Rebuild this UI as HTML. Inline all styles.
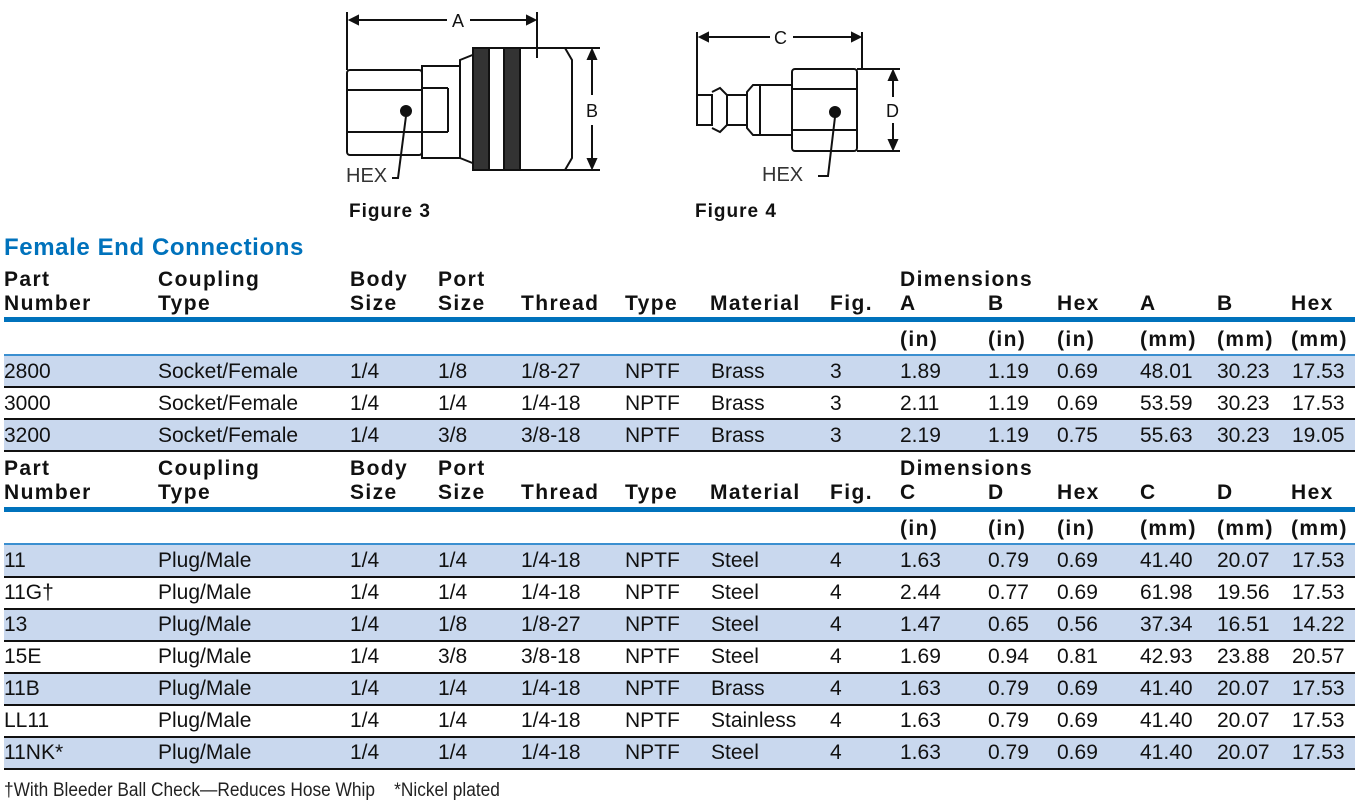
<!DOCTYPE html>
<html><head><meta charset="utf-8"><style>
body{margin:0;width:1359px;height:808px;background:#fff;position:relative;overflow:hidden;font-family:"Liberation Sans",sans-serif;color:#111}
.t{position:absolute;white-space:nowrap}
.h{font-family:"Liberation Sans",sans-serif;font-weight:bold;font-size:21px;line-height:24px;letter-spacing:1.4px}
.d{font-size:21px;line-height:32px}
.row{position:absolute;left:4px;width:1351px;height:32px}
.s{background:#c9d8ee}
.ln{position:absolute;left:4px;width:1351px;height:2px;background:#111}
.bb{position:absolute;left:4px;width:1351px;height:5px;background:#0072bc}
.tb{position:absolute;left:4px;width:1351px;height:2px;background:#3b8fd0}
</style></head><body>
<svg width="1359" height="230" style="position:absolute;left:0;top:0" fill="none" stroke="#111" stroke-width="2">
<line x1="347" y1="12" x2="347" y2="70"/><line x1="537" y1="12" x2="537" y2="58"/>
<line x1="350" y1="20" x2="447" y2="20"/><line x1="470" y1="20" x2="535" y2="20"/>
<path d="M350 20l8-4v8z M535 20l-8-4v8z" fill="#111"/>
<text x="452" y="27" font-family="Liberation Sans" font-size="18" fill="#111" stroke="none">A</text>
<rect x="347" y="70" width="75" height="85" rx="3"/><line x1="347" y1="90" x2="422" y2="90"/><line x1="347" y1="132" x2="422" y2="132"/>
<rect x="422" y="66" width="38" height="92"/><line x1="422" y1="88" x2="448" y2="88"/><line x1="448" y1="88" x2="448" y2="132"/><line x1="422" y1="132" x2="448" y2="132"/>
<path d="M460 60 L490 48 L565 48 L572 60 L572 158 L565 170 L490 170 L460 158 Z"/>
<rect x="473" y="48" width="16" height="122" fill="#333"/><rect x="504" y="48" width="16" height="122" fill="#333"/>
<line x1="530" y1="48" x2="600" y2="48"/><line x1="530" y1="170" x2="600" y2="170"/>
<line x1="592" y1="52" x2="592" y2="95"/><line x1="592" y1="125" x2="592" y2="166"/>
<path d="M592 50l-4 9h8z M592 168l-4-9h8z" fill="#111"/>
<text x="586" y="117" font-family="Liberation Sans" font-size="18" fill="#111" stroke="none">B</text>
<circle cx="406" cy="111" r="5" fill="#111"/><path d="M406 116 L398 178 L392 178"/>
<text x="346" y="182" font-family="Liberation Sans" font-size="20" fill="#333" stroke="none">HEX</text>
<line x1="697" y1="32" x2="697" y2="95"/><line x1="862" y1="32" x2="862" y2="70"/>
<line x1="700" y1="37" x2="770" y2="37"/><line x1="793" y1="37" x2="860" y2="37"/>
<path d="M700 37l8-4v8z M860 37l-8-4v8z" fill="#111"/>
<text x="774" y="44" font-family="Liberation Sans" font-size="18" fill="#111" stroke="none">C</text>
<path d="M697 95 L697 125 L712 125 L712 95 Z"/><path d="M712 92 L720 88 L727 95 L727 125 L720 132 L712 128"/>
<rect x="727" y="95" width="20" height="30"/><path d="M747 92 L753 85 L760 85 L760 135 L753 135 L747 128 Z"/>
<rect x="760" y="85" width="32" height="50"/>
<rect x="792" y="69" width="65" height="82" rx="3"/><line x1="792" y1="89" x2="857" y2="89"/><line x1="792" y1="130" x2="857" y2="130"/>
<line x1="857" y1="69" x2="900" y2="69"/><line x1="857" y1="151" x2="900" y2="151"/>
<line x1="893" y1="73" x2="893" y2="97"/><line x1="893" y1="123" x2="893" y2="147"/>
<path d="M893 71l-4 9h8z M893 149l-4-9h8z" fill="#111"/>
<text x="886" y="117" font-family="Liberation Sans" font-size="18" fill="#111" stroke="none">D</text>
<circle cx="835" cy="112" r="5" fill="#111"/><path d="M835 117 L828 176 L818 176"/>
<text x="762" y="181" font-family="Liberation Sans" font-size="20" fill="#333" stroke="none">HEX</text>
</svg>
<div class="t h" style="left:349px;top:200px;font-size:19px;letter-spacing:1px">Figure 3</div>
<div class="t h" style="left:695px;top:200px;font-size:19px;letter-spacing:1px">Figure 4</div>
<div class="t h" style="left:4px;top:235px;color:#0072bc;font-size:24px;line-height:26px;letter-spacing:0.6px">Female End Connections</div>

<div class="t h" style="left:4px;top:268px">Part<br>Number</div>
<div class="t h" style="left:158px;top:268px">Coupling<br>Type</div>
<div class="t h" style="left:350px;top:268px">Body<br>Size</div>
<div class="t h" style="left:438px;top:268px">Port<br>Size</div>
<div class="t h" style="left:521px;top:292px">Thread</div>
<div class="t h" style="left:625px;top:292px">Type</div>
<div class="t h" style="left:710px;top:292px">Material</div>
<div class="t h" style="left:830px;top:292px">Fig.</div>
<div class="t h" style="left:900px;top:268px">Dimensions<br>A</div>
<div class="t h" style="left:988px;top:292px">B</div>
<div class="t h" style="left:1057px;top:292px">Hex</div>
<div class="t h" style="left:1140px;top:292px">A</div>
<div class="t h" style="left:1217px;top:292px">B</div>
<div class="t h" style="left:1291px;top:292px">Hex</div>
<div class="bb" style="top:317px"></div>
<div class="t h" style="left:900px;top:328px">(in)</div>
<div class="t h" style="left:988px;top:328px">(in)</div>
<div class="t h" style="left:1057px;top:328px">(in)</div>
<div class="t h" style="left:1140px;top:328px">(mm)</div>
<div class="t h" style="left:1217px;top:328px">(mm)</div>
<div class="t h" style="left:1291px;top:328px">(mm)</div>
<div class="tb" style="top:354px"></div>

<div class="row s" style="top:356px"></div>
<div class="ln" style="top:386px"></div>
<div class="ln" style="top:418px"></div>
<div class="row s" style="top:420px"></div>
<div class="ln" style="top:450px"></div>

<div class="t h" style="left:4px;top:457px">Part<br>Number</div>
<div class="t h" style="left:158px;top:457px">Coupling<br>Type</div>
<div class="t h" style="left:350px;top:457px">Body<br>Size</div>
<div class="t h" style="left:438px;top:457px">Port<br>Size</div>
<div class="t h" style="left:521px;top:481px">Thread</div>
<div class="t h" style="left:625px;top:481px">Type</div>
<div class="t h" style="left:710px;top:481px">Material</div>
<div class="t h" style="left:830px;top:481px">Fig.</div>
<div class="t h" style="left:900px;top:457px">Dimensions<br>C</div>
<div class="t h" style="left:988px;top:481px">D</div>
<div class="t h" style="left:1057px;top:481px">Hex</div>
<div class="t h" style="left:1140px;top:481px">C</div>
<div class="t h" style="left:1217px;top:481px">D</div>
<div class="t h" style="left:1291px;top:481px">Hex</div>
<div class="bb" style="top:507px"></div>
<div class="t h" style="left:900px;top:517px">(in)</div>
<div class="t h" style="left:988px;top:517px">(in)</div>
<div class="t h" style="left:1057px;top:517px">(in)</div>
<div class="t h" style="left:1140px;top:517px">(mm)</div>
<div class="t h" style="left:1217px;top:517px">(mm)</div>
<div class="t h" style="left:1291px;top:517px">(mm)</div>
<div class="tb" style="top:543px"></div>

<div class="row s" style="top:545px"></div>
<div class="ln" style="top:576px"></div>
<div class="row s" style="top:609px"></div>
<div class="ln" style="top:608px"></div>
<div class="ln" style="top:640px"></div>
<div class="row s" style="top:673px"></div>
<div class="ln" style="top:672px"></div>
<div class="ln" style="top:704px"></div>
<div class="row s" style="top:737px"></div>
<div class="ln" style="top:736px"></div>
<div class="ln" style="top:768px"></div>

<div class="t d" style="left:4px;top:356px">2800</div><div class="t d" style="left:158px;top:356px">Socket/Female</div><div class="t d" style="left:350px;top:356px">1/4</div><div class="t d" style="left:438px;top:356px">1/8</div><div class="t d" style="left:521px;top:356px">1/8-27</div><div class="t d" style="left:625px;top:356px">NPTF</div><div class="t d" style="left:711px;top:356px">Brass</div><div class="t d" style="left:830px;top:356px">3</div><div class="t d" style="left:900px;top:356px">1.89</div><div class="t d" style="left:988px;top:356px">1.19</div><div class="t d" style="left:1057px;top:356px">0.69</div><div class="t d" style="left:1140px;top:356px">48.01</div><div class="t d" style="left:1217px;top:356px">30.23</div><div class="t d" style="left:1292px;top:356px">17.53</div>
<div class="t d" style="left:4px;top:388px">3000</div><div class="t d" style="left:158px;top:388px">Socket/Female</div><div class="t d" style="left:350px;top:388px">1/4</div><div class="t d" style="left:438px;top:388px">1/4</div><div class="t d" style="left:521px;top:388px">1/4-18</div><div class="t d" style="left:625px;top:388px">NPTF</div><div class="t d" style="left:711px;top:388px">Brass</div><div class="t d" style="left:830px;top:388px">3</div><div class="t d" style="left:900px;top:388px">2.11</div><div class="t d" style="left:988px;top:388px">1.19</div><div class="t d" style="left:1057px;top:388px">0.69</div><div class="t d" style="left:1140px;top:388px">53.59</div><div class="t d" style="left:1217px;top:388px">30.23</div><div class="t d" style="left:1292px;top:388px">17.53</div>
<div class="t d" style="left:4px;top:420px">3200</div><div class="t d" style="left:158px;top:420px">Socket/Female</div><div class="t d" style="left:350px;top:420px">1/4</div><div class="t d" style="left:438px;top:420px">3/8</div><div class="t d" style="left:521px;top:420px">3/8-18</div><div class="t d" style="left:625px;top:420px">NPTF</div><div class="t d" style="left:711px;top:420px">Brass</div><div class="t d" style="left:830px;top:420px">3</div><div class="t d" style="left:900px;top:420px">2.19</div><div class="t d" style="left:988px;top:420px">1.19</div><div class="t d" style="left:1057px;top:420px">0.75</div><div class="t d" style="left:1140px;top:420px">55.63</div><div class="t d" style="left:1217px;top:420px">30.23</div><div class="t d" style="left:1292px;top:420px">19.05</div>

<div class="t d" style="left:4px;top:545px">11</div><div class="t d" style="left:158px;top:545px">Plug/Male</div><div class="t d" style="left:350px;top:545px">1/4</div><div class="t d" style="left:438px;top:545px">1/4</div><div class="t d" style="left:521px;top:545px">1/4-18</div><div class="t d" style="left:625px;top:545px">NPTF</div><div class="t d" style="left:711px;top:545px">Steel</div><div class="t d" style="left:830px;top:545px">4</div><div class="t d" style="left:900px;top:545px">1.63</div><div class="t d" style="left:988px;top:545px">0.79</div><div class="t d" style="left:1057px;top:545px">0.69</div><div class="t d" style="left:1140px;top:545px">41.40</div><div class="t d" style="left:1217px;top:545px">20.07</div><div class="t d" style="left:1292px;top:545px">17.53</div>
<div class="t d" style="left:4px;top:577px">11G†</div><div class="t d" style="left:158px;top:577px">Plug/Male</div><div class="t d" style="left:350px;top:577px">1/4</div><div class="t d" style="left:438px;top:577px">1/4</div><div class="t d" style="left:521px;top:577px">1/4-18</div><div class="t d" style="left:625px;top:577px">NPTF</div><div class="t d" style="left:711px;top:577px">Steel</div><div class="t d" style="left:830px;top:577px">4</div><div class="t d" style="left:900px;top:577px">2.44</div><div class="t d" style="left:988px;top:577px">0.77</div><div class="t d" style="left:1057px;top:577px">0.69</div><div class="t d" style="left:1140px;top:577px">61.98</div><div class="t d" style="left:1217px;top:577px">19.56</div><div class="t d" style="left:1292px;top:577px">17.53</div>
<div class="t d" style="left:4px;top:609px">13</div><div class="t d" style="left:158px;top:609px">Plug/Male</div><div class="t d" style="left:350px;top:609px">1/4</div><div class="t d" style="left:438px;top:609px">1/8</div><div class="t d" style="left:521px;top:609px">1/8-27</div><div class="t d" style="left:625px;top:609px">NPTF</div><div class="t d" style="left:711px;top:609px">Steel</div><div class="t d" style="left:830px;top:609px">4</div><div class="t d" style="left:900px;top:609px">1.47</div><div class="t d" style="left:988px;top:609px">0.65</div><div class="t d" style="left:1057px;top:609px">0.56</div><div class="t d" style="left:1140px;top:609px">37.34</div><div class="t d" style="left:1217px;top:609px">16.51</div><div class="t d" style="left:1292px;top:609px">14.22</div>
<div class="t d" style="left:4px;top:641px">15E</div><div class="t d" style="left:158px;top:641px">Plug/Male</div><div class="t d" style="left:350px;top:641px">1/4</div><div class="t d" style="left:438px;top:641px">3/8</div><div class="t d" style="left:521px;top:641px">3/8-18</div><div class="t d" style="left:625px;top:641px">NPTF</div><div class="t d" style="left:711px;top:641px">Steel</div><div class="t d" style="left:830px;top:641px">4</div><div class="t d" style="left:900px;top:641px">1.69</div><div class="t d" style="left:988px;top:641px">0.94</div><div class="t d" style="left:1057px;top:641px">0.81</div><div class="t d" style="left:1140px;top:641px">42.93</div><div class="t d" style="left:1217px;top:641px">23.88</div><div class="t d" style="left:1292px;top:641px">20.57</div>
<div class="t d" style="left:4px;top:673px">11B</div><div class="t d" style="left:158px;top:673px">Plug/Male</div><div class="t d" style="left:350px;top:673px">1/4</div><div class="t d" style="left:438px;top:673px">1/4</div><div class="t d" style="left:521px;top:673px">1/4-18</div><div class="t d" style="left:625px;top:673px">NPTF</div><div class="t d" style="left:711px;top:673px">Brass</div><div class="t d" style="left:830px;top:673px">4</div><div class="t d" style="left:900px;top:673px">1.63</div><div class="t d" style="left:988px;top:673px">0.79</div><div class="t d" style="left:1057px;top:673px">0.69</div><div class="t d" style="left:1140px;top:673px">41.40</div><div class="t d" style="left:1217px;top:673px">20.07</div><div class="t d" style="left:1292px;top:673px">17.53</div>
<div class="t d" style="left:4px;top:705px">LL11</div><div class="t d" style="left:158px;top:705px">Plug/Male</div><div class="t d" style="left:350px;top:705px">1/4</div><div class="t d" style="left:438px;top:705px">1/4</div><div class="t d" style="left:521px;top:705px">1/4-18</div><div class="t d" style="left:625px;top:705px">NPTF</div><div class="t d" style="left:711px;top:705px">Stainless</div><div class="t d" style="left:830px;top:705px">4</div><div class="t d" style="left:900px;top:705px">1.63</div><div class="t d" style="left:988px;top:705px">0.79</div><div class="t d" style="left:1057px;top:705px">0.69</div><div class="t d" style="left:1140px;top:705px">41.40</div><div class="t d" style="left:1217px;top:705px">20.07</div><div class="t d" style="left:1292px;top:705px">17.53</div>
<div class="t d" style="left:4px;top:737px">11NK*</div><div class="t d" style="left:158px;top:737px">Plug/Male</div><div class="t d" style="left:350px;top:737px">1/4</div><div class="t d" style="left:438px;top:737px">1/4</div><div class="t d" style="left:521px;top:737px">1/4-18</div><div class="t d" style="left:625px;top:737px">NPTF</div><div class="t d" style="left:711px;top:737px">Steel</div><div class="t d" style="left:830px;top:737px">4</div><div class="t d" style="left:900px;top:737px">1.63</div><div class="t d" style="left:988px;top:737px">0.79</div><div class="t d" style="left:1057px;top:737px">0.69</div><div class="t d" style="left:1140px;top:737px">41.40</div><div class="t d" style="left:1217px;top:737px">20.07</div><div class="t d" style="left:1292px;top:737px">17.53</div>

<div class="t" style="left:4px;top:778px;font-size:19px;line-height:26px;color:#222;transform:scaleX(0.91);transform-origin:0 0">†With Bleeder Ball Check—Reduces Hose Whip&nbsp;&nbsp;&nbsp;&nbsp;*Nickel plated</div>
</body></html>
